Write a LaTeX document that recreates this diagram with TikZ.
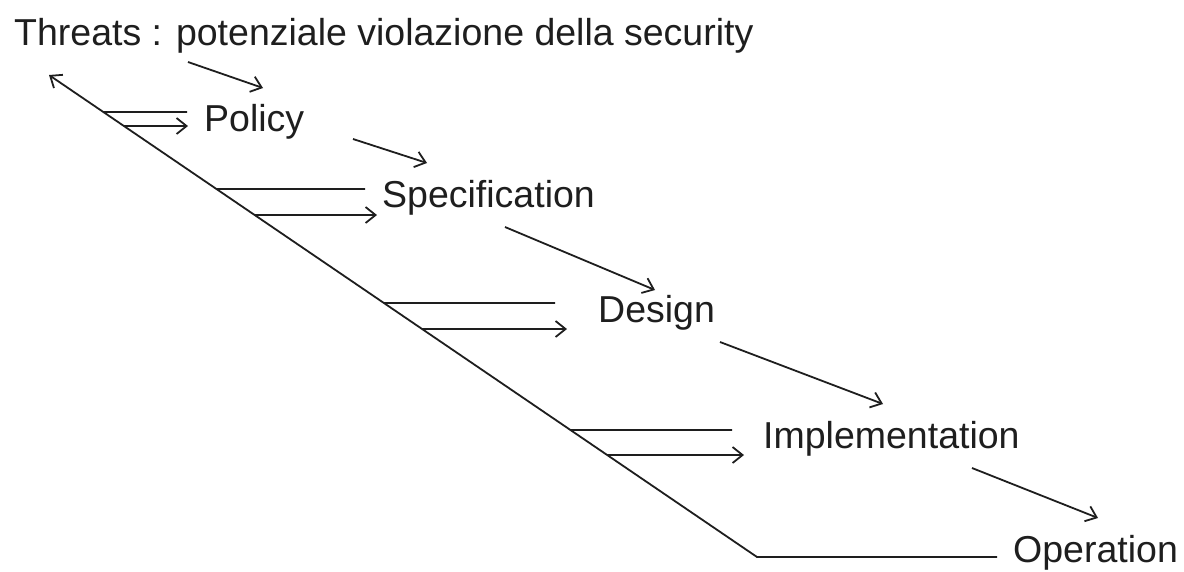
\documentclass[tikz,border=0pt]{standalone}
\usepackage{fontspec}
\setmainfont{Liberation Sans}
\usetikzlibrary{arrows.meta,calc}
\definecolor{ink}{HTML}{1E1E1E}
\begin{document}
\begin{tikzpicture}[x=1pt,y=-1pt,
  lbl/.style={anchor=base west,inner sep=0pt,text=ink,font=\fontsize{37.5}{45}\selectfont},
  ln/.style={draw=ink,line width=1.8pt},
  arr/.style={ln,-{Straight Barb[length=10pt,width=16pt]}}]
\useasboundingbox (0,0) rectangle (1184,571);
% labels
\node[lbl] (threats) at (14,45) {Threats : potenziale violazione della security};
\node[lbl] (policy) at (204,131) {Policy};
\node[lbl] (spec) at (382,207) {Specification};
\node[lbl] (design) at (598,322) {Design};
\node[lbl] (impl) at (763,448) {Implementation};
\node[lbl] (oper) at (1013,562) {Operation};
% main diagonal
\coordinate (tip) at (49,75);
\coordinate (corner) at (757,557);
\coordinate (bend) at (997,557);
\draw[arr] (bend) -- (corner) -- (tip);
% branch points on the diagonal
\coordinate (pu) at ($(tip)!{(112-75)/482}!(corner)$);
\coordinate (pl) at ($(tip)!{(126-75)/482}!(corner)$);
\coordinate (su) at ($(tip)!{(189-75)/482}!(corner)$);
\coordinate (sl) at ($(tip)!{(215-75)/482}!(corner)$);
\coordinate (du) at ($(tip)!{(303-75)/482}!(corner)$);
\coordinate (dl) at ($(tip)!{(329-75)/482}!(corner)$);
\coordinate (iu) at ($(tip)!{(430-75)/482}!(corner)$);
\coordinate (il) at ($(tip)!{(455-75)/482}!(corner)$);
\coordinate (pue) at (187,112);
\coordinate (ple) at (188,126);
\coordinate (sue) at (365,189);
\coordinate (sle) at (377,215);
\coordinate (due) at (555,303);
\coordinate (dle) at (567,329);
\coordinate (iue) at (732,430);
\coordinate (ile) at (744,455);
\draw[ln] (pu) -- (pue);
\draw[arr] (pl) -- (ple);
\draw[ln] (su) -- (sue);
\draw[arr] (sl) -- (sle);
\draw[ln] (du) -- (due);
\draw[arr] (dl) -- (dle);
\draw[ln] (iu) -- (iue);
\draw[arr] (il) -- (ile);
% chain arrows
\coordinate (c1s) at (188,62);
\coordinate (c1e) at (263,88);
\coordinate (c2s) at (353,139);
\coordinate (c2e) at (427,163);
\coordinate (c3s) at (505,227);
\coordinate (c3e) at (655,290);
\coordinate (c4s) at (720,342);
\coordinate (c4e) at (883,404);
\coordinate (c5s) at (972,468);
\coordinate (c5e) at (1098,518);
\draw[arr] (c1s) -- (c1e);
\draw[arr] (c2s) -- (c2e);
\draw[arr] (c3s) -- (c3e);
\draw[arr] (c4s) -- (c4e);
\draw[arr] (c5s) -- (c5e);
\end{tikzpicture}
\end{document}
